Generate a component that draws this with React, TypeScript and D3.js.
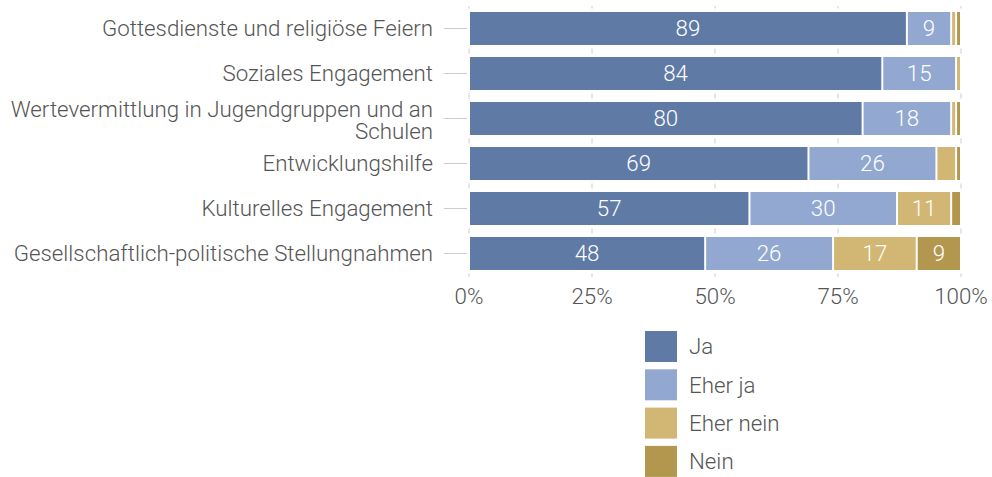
import React, { useEffect } from "react";
import * as d3 from "d3";

const categories = [
  ["Gottesdienste und religiöse Feiern"],
  ["Soziales Engagement"],
  ["Wertevermittlung in Jugendgruppen und an", "Schulen"],
  ["Entwicklungshilfe"],
  ["Kulturelles Engagement"],
  ["Gesellschaftlich-politische Stellungnahmen"],
];
const seriesNames = ["Ja", "Eher ja", "Eher nein", "Nein"];
const ja = [89, 84, 80, 69, 57, 48];
const eherJa = [9, 15, 18, 26, 30, 26];
const eherNein = [1, 1, 1, 4, 11, 17];
const nein = [1, 0, 1, 1, 2, 9];
const colors = ["#607aa6", "#92a8d0", "#d2b674", "#b3974f"];
const ticks = [0, 25, 50, 75, 100];

const W = 992;
const H = 477;
const FONT = "Roboto, 'Noto Sans', sans-serif";
const TXT = "#555555";
const FS = 22.3;

export default function App() {
  useEffect(() => {
    document.body.style.margin = "0";
  }, []);

  const series = [ja, eherJa, eherNein, nein];
  const x = d3.scaleLinear().domain([0, 100]).range([469, 961]);
  const y = d3
    .scaleBand<number>()
    .domain(categories.map((_, i) => i))
    .range([6, 276])
    .paddingInner(12 / 45)
    .paddingOuter(6 / 45);
  const bw = y.bandwidth();
  const step = y.step();
  const yTop = y.range()[0];
  const yBot = y.range()[1];

  const stackData = categories.map((_, i) => {
    const o: any = { i };
    seriesNames.forEach((s, k) => (o[s] = series[k][i]));
    return o;
  });
  const stacked = d3.stack<any>().keys(seriesNames)(stackData);

  const legendX = 645;
  const legendY = 331;
  const legendStep = 38.3;

  return (
    <svg width={W} height={H} style={{ display: "block", fontFamily: FONT, fontWeight: 300 }}>
      {ticks.map((t) => (
        <line
          key={"g" + t}
          x1={x(t)}
          x2={x(t)}
          y1={yTop}
          y2={yBot + 1}
          stroke="#cccccc"
          strokeWidth={1}
          strokeDasharray={`5,${step - 5}`}
          strokeDashoffset={2.5}
        />
      ))}
      {categories.map((_, i) => (
        <line
          key={"yt" + i}
          x1={444}
          x2={467}
          y1={(y(i) as number) + bw / 2}
          y2={(y(i) as number) + bw / 2}
          stroke="#cccccc"
          strokeWidth={1}
        />
      ))}
      {categories.map((lines, i) => {
        const cy = (y(i) as number) + bw / 2;
        const lh = 21.6;
        const start = cy - ((lines.length - 1) * lh) / 2 + (lines.length > 1 ? 1.4 : 0);
        return (
          <text key={"c" + i} textAnchor="end" fill={TXT} fontSize={FS} x={433}>
            {lines.map((l, j) => (
              <tspan key={j} x={433} y={start + j * lh} dy="0.35em">
                {l}
              </tspan>
            ))}
          </text>
        );
      })}
      {stacked.map((s, k) =>
        s.map((d, i) => {
          const x0 = x(d[0]);
          const x1 = x(d[1]);
          const w = Math.max(0, x1 - x0 - 2);
          if (d[1] - d[0] <= 0) return null;
          return (
            <rect
              key={k + "-" + i}
              x={x0 + 1}
              y={y(i) as number}
              width={w}
              height={bw}
              fill={colors[k]}
            />
          );
        })
      )}
      {stacked.map((s, k) =>
        s.map((d, i) => {
          const v = d[1] - d[0];
          if (v < 5) return null;
          return (
            <text
              key={"v" + k + "-" + i}
              x={(x(d[0]) + x(d[1])) / 2}
              y={(y(i) as number) + bw / 2}
              dy="0.35em"
              textAnchor="middle"
              fill="#ffffff"
              fontSize={FS}
            >
              {v}
            </text>
          );
        })
      )}
      {ticks.map((t) => (
        <text
          key={"xt" + t}
          x={x(t)}
          y={296}
          dy="0.35em"
          textAnchor="middle"
          fill={TXT}
          fontSize={FS}
        >
          {t + "%"}
        </text>
      ))}
      {seriesNames.map((n, k) => (
        <g key={"l" + k} transform={`translate(${legendX},${legendY + k * legendStep})`}>
          <rect x={0} y={0} width={32} height={31} fill={colors[k]} />
          <text x={44} y={15.5} dy="0.35em" fill={TXT} fontSize={FS}>
            {n}
          </text>
        </g>
      ))}
    </svg>
  );
}
